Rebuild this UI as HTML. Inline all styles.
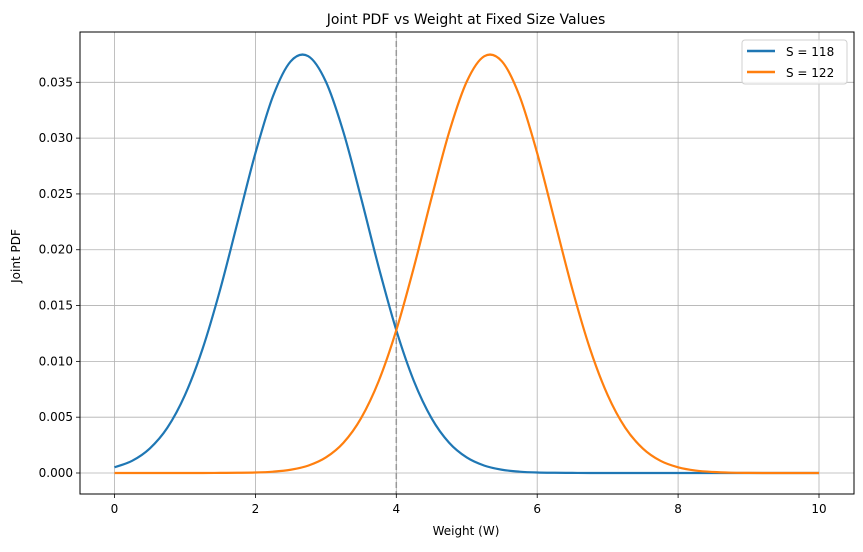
<!DOCTYPE html>
<html><head><meta charset="utf-8"><style>
body{margin:0;background:#fff}
text{font-family:"DejaVu Sans","Liberation Sans",sans-serif;fill:#000}
</style></head><body>
<svg id="chart" width="863" height="547" xmlns="http://www.w3.org/2000/svg">
<rect width="863" height="547" fill="#fff"/>
<text x="466" y="24" text-anchor="middle" font-size="14">Joint PDF vs Weight at Fixed Size Values</text>
<text x="466" y="535" text-anchor="middle" font-size="12">Weight (W)</text>
<text x="20" y="256" text-anchor="middle" font-size="12" transform="rotate(-90 20 256)">Joint PDF</text>
<g id="grid"></g><g id="series"></g><g id="axes"></g>
<g>
<rect x="742" y="40" width="105" height="44" rx="3" fill="#fff" fill-opacity="0.8" stroke="#d0d0d0"/>
<line x1="747" y1="51" x2="775" y2="51" stroke="#1f77b4" stroke-width="2.5"/>
<text x="786" y="56" font-size="12">S = 118</text>
<line x1="747" y1="72" x2="775" y2="72" stroke="#ff7f0e" stroke-width="2.5"/>
<text x="786" y="77" font-size="12">S = 122</text>
</g>
</svg>
<script>
const xTicks=[0,2,4,6,8,10];
const yTicks=[0,0.005,0.01,0.015,0.02,0.025,0.03,0.035];
const yTickLabels=["0.000","0.005","0.010","0.015","0.020","0.025","0.030","0.035"];
const xValues=[0,0.25,0.5,0.75,1,1.25,1.5,1.75,2,2.25,2.5,2.75,3,3.25,3.5,3.75,4,4.25,4.5,4.75,5,5.25,5.5,5.75,6,6.25,6.5,6.75,7,7.25,7.5,7.75,8,8.25,8.5,8.75,9,9.25,9.5,9.75,10];
const s118=[0.00051,0.00109,0.00219,0.00405,0.00698,0.01112,0.01644,0.02254,0.02865,0.03376,0.03687,0.03734,0.03506,0.03053,0.02464,0.01844,0.01279,0.00823,0.00491,0.00271,0.00139,0.00066,0.00029,0.00012,0.000045,0.00002,0.00001,0,0,0,0,0,0,0,0,0,0,0,0,0,0];
const s122=[0,0,0,0,0,0,0.00001,0.00002,0.000045,0.00012,0.00029,0.00066,0.00139,0.00271,0.00491,0.00823,0.01279,0.01844,0.02464,0.03053,0.03506,0.03734,0.03687,0.03376,0.02865,0.02254,0.01644,0.01112,0.00698,0.00405,0.00219,0.00109,0.00051,0.00022,0.00009,0.00003,0.00001,0,0,0,0];
const refX=4;
const L=80,R=854,T=32,B=494;
const xs=v=>114.5+(v-0)*(819-114.5)/10;
const ys=v=>473-v*(473-82.3)/0.035;
const NS="http://www.w3.org/2000/svg";
function mk(tag,attrs,parent){const e=document.createElementNS(NS,tag);for(const k in attrs)e.setAttribute(k,attrs[k]);parent.appendChild(e);return e;}
const grid=document.getElementById('grid'),axes=document.getElementById('axes'),ser=document.getElementById('series');
xTicks.forEach(t=>{
 const g=mk('line',{x1:xs(t),x2:xs(t),y1:T,y2:B,stroke:'#b0b0b0','stroke-width':0.8},grid);
 
 
 mk('line',{x1:xs(t),x2:xs(t),y1:B,y2:B+4,stroke:'#000','stroke-width':0.8},axes);
 const tx=mk('text',{x:xs(t),y:B+19,'text-anchor':'middle','font-size':12},axes);tx.textContent=t;
 
 
});
yTicks.forEach((t,i)=>{
 const g=mk('line',{x1:L,x2:R,y1:ys(t),y2:ys(t),stroke:'#b0b0b0','stroke-width':0.8},grid);
 
 
 mk('line',{x1:L-4,x2:L,y1:ys(t),y2:ys(t),stroke:'#000','stroke-width':0.8},axes);
 const tx=mk('text',{x:L-7,y:ys(t)+4,'text-anchor':'end','font-size':12},axes);tx.textContent=yTickLabels[i];
 
 
});
const frame=mk('rect',{x:L,y:T,width:R-L,height:B-T,fill:'none',stroke:'#000','stroke-width':1},axes);


const ref=mk('line',{x1:xs(refX),x2:xs(refX),y1:T,y2:B,stroke:'#999','stroke-width':1.5,'stroke-dasharray':'6,3'},ser);


function path(vals){
 const p=xValues.map((x,i)=>[xs(x),ys(vals[i])]);
 let d='M'+p[0][0]+','+p[0][1];
 for(let i=0;i<p.length-1;i++){
  const p0=p[Math.max(0,i-1)],p1=p[i],p2=p[i+1],p3=p[Math.min(p.length-1,i+2)];
  d+=` C${p1[0]+(p2[0]-p0[0])/6},${p1[1]+(p2[1]-p0[1])/6} ${p2[0]-(p3[0]-p1[0])/6},${p2[1]-(p3[1]-p1[1])/6} ${p2[0]},${p2[1]}`;
 }
 return d;
}
const l1=mk('path',{d:path(s118),fill:'none',stroke:'#1f77b4','stroke-width':2.2},ser);


const l2=mk('path',{d:path(s122),fill:'none',stroke:'#ff7f0e','stroke-width':2.2},ser);


</script>
</body></html>
